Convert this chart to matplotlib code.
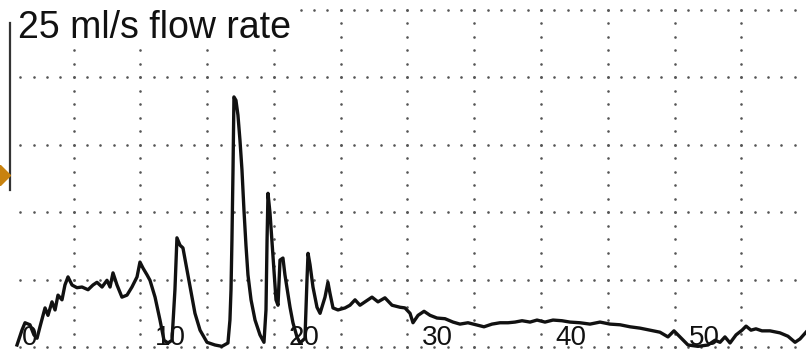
import numpy as np
import matplotlib.pyplot as plt

# recorder trace: time (min) vs detector signal (grid divisions)
time_min = [0.75, 1.12, 1.35, 1.72, 2.02, 2.25, 2.47, 2.85, 3.07, 3.37,
            3.60, 3.82, 4.12, 4.34, 4.57, 4.87, 5.24, 5.62, 6.07, 6.44,
            6.74, 7.12, 7.49, 7.72, 7.94, 8.24, 8.61, 8.99, 9.36, 9.74,
            9.96, 10.19, 10.49, 10.71, 11.09, 11.46, 11.76, 12.06, 12.36, 12.58,
            12.73, 12.96, 13.18, 13.41, 13.71, 14.08, 14.46, 14.98, 15.58, 16.10,
            16.55, 16.70, 16.78, 16.85, 16.93, 17.00, 17.15, 17.30, 17.45, 17.60,
            17.75, 17.90, 18.05, 18.28, 18.58, 18.95, 19.25, 19.40, 19.48, 19.55,
            19.70, 19.93, 20.15, 20.30, 20.45, 20.67, 20.82, 21.20, 21.42, 21.72,
            21.95, 22.32, 22.47, 22.55, 22.70, 22.92, 23.22, 23.45, 23.82, 24.04,
            24.19, 24.42, 24.79, 25.32, 25.69, 26.07, 26.44, 26.82, 27.34, 27.79,
            28.31, 28.84, 29.44, 29.81, 30.19, 30.41, 30.79, 31.24, 31.69, 32.21,
            32.81, 33.41, 33.93, 34.53, 35.13, 35.73, 36.33, 36.93, 37.53, 38.05,
            38.58, 39.18, 39.70, 40.30, 40.90, 41.57, 42.17, 42.92, 43.67, 44.42,
            45.17, 45.92, 46.67, 47.42, 48.16, 48.91, 49.51, 49.96, 50.41, 51.01,
            51.76, 52.51, 53.03, 53.41, 53.78, 54.16, 54.61, 55.06, 55.36, 55.73,
            56.10, 56.55, 57.15, 57.90, 58.50, 59.03, 59.40, 59.85]
signal = [0.03, 0.25, 0.36, 0.33, 0.18, 0.13, 0.30, 0.58, 0.47, 0.67,
          0.55, 0.77, 0.70, 0.92, 1.04, 0.92, 0.88, 0.89, 0.85, 0.92,
          0.96, 0.89, 0.99, 0.89, 1.10, 0.92, 0.74, 0.77, 0.89, 1.04,
          1.26, 1.17, 1.07, 0.99, 0.74, 0.40, 0.10, 0.06, 0.10, 0.85,
          1.62, 1.51, 1.47, 1.22, 0.89, 0.50, 0.25, 0.07, 0.03, 0.01,
          0.06, 0.40, 0.85, 1.59, 2.63, 3.71, 3.66, 3.44, 3.07, 2.63,
          2.03, 1.51, 1.07, 0.70, 0.40, 0.18, 0.07, 0.55, 1.59, 2.28,
          1.99, 1.34, 0.70, 0.62, 1.29, 1.32, 1.07, 0.59, 0.36, 0.15,
          0.06, 0.13, 0.99, 1.39, 1.22, 0.89, 0.59, 0.50, 0.74, 0.96,
          0.80, 0.58, 0.55, 0.58, 0.62, 0.70, 0.62, 0.67, 0.74, 0.67,
          0.73, 0.62, 0.59, 0.58, 0.50, 0.36, 0.47, 0.53, 0.47, 0.43,
          0.42, 0.37, 0.34, 0.36, 0.33, 0.30, 0.34, 0.36, 0.36, 0.37,
          0.39, 0.37, 0.40, 0.37, 0.40, 0.39, 0.37, 0.36, 0.34, 0.37,
          0.34, 0.33, 0.30, 0.28, 0.25, 0.22, 0.15, 0.24, 0.15, 0.03,
          0.01, 0.03, 0.10, 0.07, 0.15, 0.06, 0.18, 0.25, 0.31, 0.25,
          0.27, 0.24, 0.24, 0.21, 0.16, 0.07, 0.12, 0.22]
time_ticks = [0, 10, 20, 30, 40, 50]
title = "25 ml/s flow rate"

fig = plt.figure(figsize=(8.06, 3.51), dpi=100)
ax = fig.add_axes([0, 0, 1, 1])
ax.set_xlim(-0.524, 59.85)
ax.set_ylim(-0.059, 5.148)
ax.axis('off')

# dotted chart-paper grid
gx, gy = [], []
for row in range(6):
    start = 22 if row == 5 else 1
    for col in range(start, 60):
        gx.append(col)
        gy.append(row)
for col in range(5, 60, 5):
    for k in range(26):
        gx.append(col)
        gy.append(k * 0.2)
ax.scatter(gx, gy, s=3.5, color='#555555', linewidths=0, zorder=1)

ax.plot(time_min, signal, color='#111111', lw=2.4,
        solid_joinstyle='round', zorder=3)

narrow = ['Liberation Sans Narrow', 'Liberation Sans', 'DejaVu Sans']
for t in time_ticks:
    ax.text(t + 1.1, 0.03, str(t), fontsize=20, family=narrow,
            ha='left', va='baseline', color='#111111', zorder=2)

ax.text(0.82, 4.58, title, fontsize=27, family=['Liberation Sans', 'DejaVu Sans'],
        ha='left', va='baseline', color='#111111', zorder=4,
        bbox=dict(facecolor='white', edgecolor='none', pad=1))

# pen scale bar and event marker at the left edge
ax.plot([0.26, 0.26], [2.33, 4.81], color='#333333', lw=1.6, zorder=4)
ax.plot([-0.52], [2.55], marker='D', ms=10, color='#c8820f',
        linestyle='none', clip_on=False, zorder=5)

fig.savefig('out.png', dpi=100)
